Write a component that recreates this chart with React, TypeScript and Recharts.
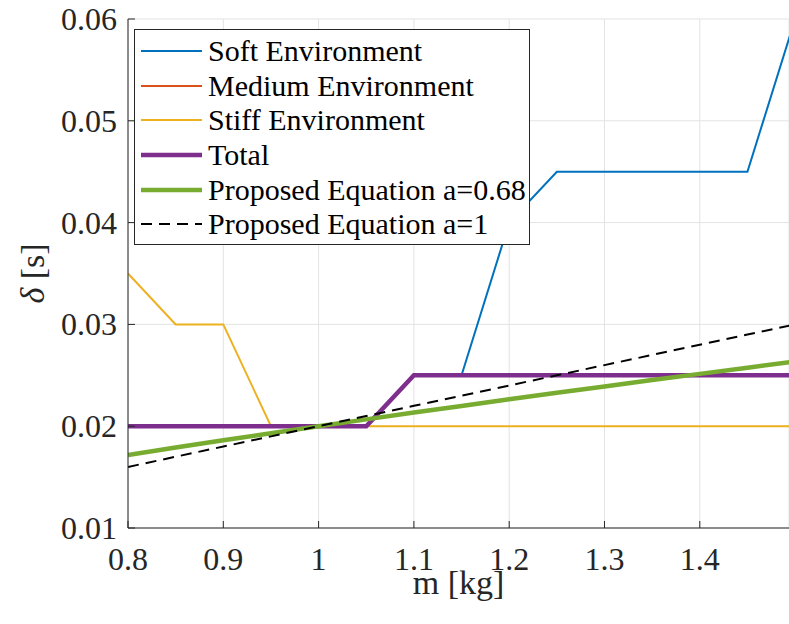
import { LineChart, Line, XAxis, YAxis, CartesianGrid, Legend, Label } from 'recharts'

// mass sweep [kg]
const massKg = [0.8, 0.85, 0.9, 0.95, 1.0, 1.05, 1.1, 1.15, 1.2, 1.25, 1.3, 1.35, 1.4, 1.45, 1.5]

// delay delta [s] per environment
const softEnv = [0.02, 0.02, 0.02, 0.02, 0.02, 0.02, 0.025, 0.025, 0.04, 0.045, 0.045, 0.045, 0.045, 0.045, 0.06]
const mediumEnv = [0.02, 0.02, 0.02, 0.02, 0.02, 0.02, 0.025, 0.025, 0.025, 0.025, 0.025, 0.025, 0.025, 0.025, 0.025]
const stiffEnv = [0.035, 0.03, 0.03, 0.02, 0.02, 0.02, 0.02, 0.02, 0.02, 0.02, 0.02, 0.02, 0.02, 0.02, 0.02]
const totalEnv = [0.02, 0.02, 0.02, 0.02, 0.02, 0.02, 0.025, 0.025, 0.025, 0.025, 0.025, 0.025, 0.025, 0.025, 0.025]

// proposed equation, a=0.68 and a=1
const proposedA068 = [0.01718, 0.01791, 0.01862, 0.01931, 0.02, 0.02067, 0.02134, 0.02199, 0.02264, 0.02328, 0.02391, 0.02453, 0.02514, 0.02575, 0.02635]
const proposedA1 = [0.016, 0.017, 0.018, 0.019, 0.02, 0.021, 0.022, 0.023, 0.024, 0.025, 0.026, 0.027, 0.028, 0.029, 0.03]

const xTicks = [0.8, 0.9, 1.0, 1.1, 1.2, 1.3, 1.4]
const yTicks = [0.01, 0.02, 0.03, 0.04, 0.05, 0.06]

const data = massKg.map((m, i) => ({
  m,
  soft: softEnv[i],
  medium: mediumEnv[i],
  stiff: stiffEnv[i],
  total: totalEnv[i],
  eq068: proposedA068[i],
  eq1: proposedA1[i],
}))

const FONT = '"Liberation Serif", "Times New Roman", serif'
const AXIS = '#262626'

const series = [
  { key: 'soft', name: 'Soft Environment', color: '#0072BD', width: 2 },
  { key: 'medium', name: 'Medium Environment', color: '#D95319', width: 2 },
  { key: 'stiff', name: 'Stiff Environment', color: '#EDB120', width: 2 },
  { key: 'total', name: 'Total', color: '#7E2F8E', width: 4.5 },
  { key: 'eq068', name: 'Proposed Equation a=0.68', color: '#77AC30', width: 4.5 },
  { key: 'eq1', name: 'Proposed Equation a=1', color: '#000000', width: 2, dash: '11 7' },
]

const fmtX = (v: number) => (v === 1 ? '1' : v.toFixed(1))

function BottomTick({ x, y, payload }: any) {
  return (
    <g>
      <line x1={x} x2={x} y1={y} y2={y - 7} stroke={AXIS} />
      <text x={x} y={y + 42} textAnchor="middle" fontSize={32} fontFamily={FONT} fill={AXIS}>
        {fmtX(payload.value)}
      </text>
    </g>
  )
}

function TopTick({ x, y }: any) {
  return <line x1={x} x2={x} y1={y} y2={y + 7} stroke={AXIS} />
}

function LeftTick({ x, y, payload }: any) {
  return (
    <g>
      <line x1={x} x2={x + 7} y1={y} y2={y} stroke={AXIS} />
      <text x={x - 11} y={y + 11} textAnchor="end" fontSize={32} fontFamily={FONT} fill={AXIS}>
        {payload.value.toFixed(2)}
      </text>
    </g>
  )
}

function XLabel({ viewBox }: any) {
  const { x, y, width } = viewBox
  return (
    <text x={x + width / 2} y={y + 66} textAnchor="middle" fontSize={34} fontFamily={FONT} fill={AXIS}>
      m [kg]
    </text>
  )
}

function YLabel({ viewBox }: any) {
  const { y, height } = viewBox
  const cy = y + height / 2
  return (
    <text
      x={44}
      y={cy}
      transform={`rotate(-90 44 ${cy})`}
      textAnchor="middle"
      fontSize={34}
      fontFamily={FONT}
      fill={AXIS}
    >
      <tspan fontStyle="italic">δ</tspan> [s]
    </text>
  )
}

function LegendBox() {
  return (
    <div
      style={{
        border: `1px solid ${AXIS}`,
        background: '#fff',
        padding: '4px 6px',
        boxSizing: 'border-box',
        width: 396,
        height: 216,
        fontFamily: FONT,
        fontSize: 30,
        color: '#000',
      }}
    >
      {series.map((s) => (
        <div key={s.key} style={{ display: 'flex', alignItems: 'center', height: 34.6, whiteSpace: 'nowrap' }}>
          <svg width={61} height={10} style={{ marginRight: 6, flexShrink: 0 }}>
            <line
              x1={0}
              x2={61}
              y1={5}
              y2={5}
              stroke={s.color}
              strokeWidth={s.width}
              strokeDasharray={s.dash}
            />
          </svg>
          <span>{s.name}</span>
        </div>
      ))}
    </div>
  )
}

export default function App() {
  return (
    <div style={{ position: 'absolute', left: 0, top: 0, width: 789, height: 624, background: '#fff' }}>
      <LineChart width={789} height={624} data={data} margin={{ top: 19, right: 0, bottom: 0, left: 0 }}>
        <CartesianGrid stroke="#e3e3e3" strokeWidth={1} />
        <XAxis
          dataKey="m"
          type="number"
          domain={[0.8, 1.4936]}
          allowDataOverflow
          ticks={xTicks}
          height={96}
          tickSize={0}
          tickMargin={0}
          tickLine={false}
          axisLine={{ stroke: AXIS }}
          tick={<BottomTick />}
          interval={0}
        >
          <Label content={<XLabel />} />
        </XAxis>
        <XAxis
          xAxisId="top"
          orientation="top"
          dataKey="m"
          type="number"
          domain={[0.8, 1.4936]}
          allowDataOverflow
          ticks={xTicks}
          height={0}
          tickSize={0}
          tickMargin={0}
          tickLine={false}
          axisLine={{ stroke: AXIS }}
          tick={<TopTick />}
          interval={0}
        />
        <YAxis
          type="number"
          domain={[0.01, 0.06]}
          allowDataOverflow
          ticks={yTicks}
          width={128}
          tickSize={0}
          tickMargin={0}
          tickLine={false}
          axisLine={{ stroke: AXIS }}
          tick={<LeftTick />}
          interval={0}
        >
          <Label content={<YLabel />} />
        </YAxis>
        {series.map((s) => (
          <Line
            key={s.key}
            dataKey={s.key}
            name={s.name}
            stroke={s.color}
            strokeWidth={s.width}
            strokeDasharray={s.dash}
            dot={false}
            activeDot={false}
            type="linear"
            isAnimationActive={false}
          />
        ))}
        <Legend
          layout="vertical"
          align="center"
          verticalAlign="middle"
          wrapperStyle={{ left: 134, top: 29, width: 396, height: 216 }}
          content={<LegendBox />}
        />
      </LineChart>
    </div>
  )
}
